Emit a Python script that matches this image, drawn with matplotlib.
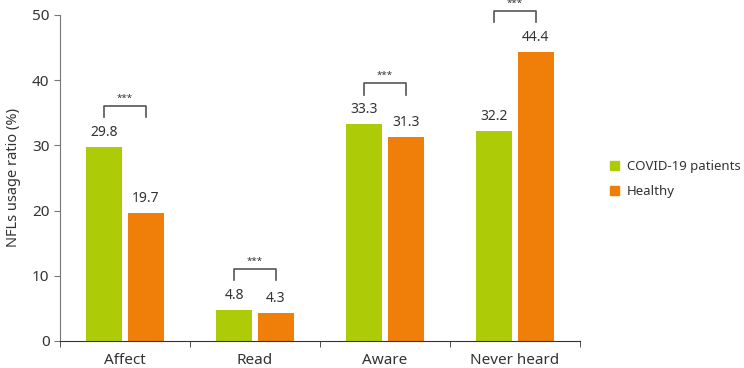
import numpy as np
import matplotlib
matplotlib.use('Agg')
import matplotlib.pyplot as plt
from matplotlib.patches import Patch

categories = ['Affect', 'Read', 'Aware', 'Never heard']
covid = [29.8, 4.8, 33.3, 32.2]
healthy = [19.7, 4.3, 31.3, 44.4]
series_names = ['COVID-19 patients', 'Healthy']
sig = ['***', '***', '***', '***']

green = '#AECB07'
orange = '#F07F0A'

plt.rcParams['font.family'] = ['Noto Sans', 'DejaVu Sans']

fig = plt.figure(figsize=(7.44, 3.68), dpi=100)
ax = fig.add_axes([60 / 744, 27 / 368, 520 / 744, 326 / 368])

x = np.arange(len(categories))
w = 0.28
off = 0.16
b1 = ax.bar(x - off, covid, w, color=green, edgecolor='none')
b2 = ax.bar(x + off, healthy, w, color=orange, edgecolor='none')

for xi, v in zip(x - off, covid):
    ax.annotate(f'{v}', (xi, v), xytext=(0, 5), textcoords='offset points',
                ha='center', va='bottom', fontsize=10, color='#333333')
for xi, v in zip(x + off, healthy):
    ax.annotate(f'{v}', (xi, v), xytext=(0, 5), textcoords='offset points',
                ha='center', va='bottom', fontsize=10, color='#333333')

# significance brackets
for xi, a, b, s in zip(x, covid, healthy, sig):
    m = max(a, b)
    y0, y1 = m + 4.5, m + 6.2
    ax.plot([xi - off, xi - off, xi + off, xi + off], [y0, y1, y1, y0],
            color='#555555', lw=1.2, clip_on=False)
    ax.text(xi, y1 + 0.5, s, ha='center', va='bottom', fontsize=7, color='#333333')

ax.set_xlim(-0.5, len(categories) - 0.5)
ax.set_ylim(0, 50)
ax.set_yticks([0, 10, 20, 30, 40, 50])
ax.set_xticks(x)
ax.set_xticklabels(categories)
ax.set_xticks(np.arange(-0.5, len(categories), 1.0), minor=True)
ax.tick_params(axis='x', which='major', length=0, labelsize=11, pad=9, colors='#333333')
ax.tick_params(axis='x', which='minor', length=4, color='#333333')
ax.tick_params(axis='y', length=4, labelsize=11, colors='#333333', color='#777777')
ax.set_ylabel('NFLs usage ratio (%)', fontsize=10.5, color='#333333', labelpad=8)

for sp in ['top', 'right']:
    ax.spines[sp].set_visible(False)
ax.spines['left'].set_color('#777777')
ax.spines['bottom'].set_color('#333333')

handles = [Patch(color=green), Patch(color=orange)]
fig.legend(handles, series_names, loc='upper left', bbox_to_anchor=(610 / 744, 1 - 160 / 368),
           frameon=False, fontsize=9.5, handlelength=0.7, handleheight=0.7,
           handletextpad=0.6, labelspacing=0.9, labelcolor='#333333',
           borderpad=0, borderaxespad=0)

fig.savefig('out.png', dpi=100)
